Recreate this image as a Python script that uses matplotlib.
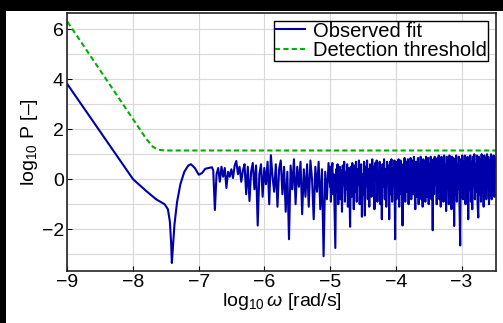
import numpy as np
import matplotlib
matplotlib.use("Agg")
import matplotlib.pyplot as plt
from matplotlib.patches import Rectangle
from matplotlib.ticker import MultipleLocator

plt.rcParams["font.family"] = ["Liberation Sans", "DejaVu Sans"]
plt.rcParams["mathtext.fontset"] = "custom"
plt.rcParams["mathtext.rm"] = "Liberation Sans"
plt.rcParams["mathtext.it"] = "Liberation Sans:italic"

# Detection threshold (log10 omega, log10 P)
thr_x = [-9.0, -8.5, -8.0, -7.8, -7.7, -7.65, -7.6, -7.55, -7.5, -7.4, -2.48]
thr_y = [6.3, 4.35, 2.4, 1.62, 1.3, 1.22, 1.18, 1.16, 1.15, 1.15, 1.15]

# Observed fit, smooth low-frequency part
fit_x = [-9.0, -8.8, -8.6, -8.4, -8.2, -8.0, -7.8, -7.65, -7.52, -7.47, -7.44,
         -7.42, -7.41, -7.39, -7.37, -7.33, -7.28, -7.22, -7.16, -7.12, -7.06,
         -7.0, -6.95, -6.9, -6.85, -6.8]
fit_y = [3.8, 3.04, 2.28, 1.52, 0.76, 0.0, -0.47, -0.8, -1.0, -1.2, -1.7,
         -2.6, -3.35, -2.6, -1.8, -0.9, -0.2, 0.3, 0.55, 0.6, 0.45,
         0.18, 0.25, 0.42, 0.45, 0.48]

# Observed fit, noisy part (three frequency bands)
band1 = [0.35, -1.23, 0.2, 0.45, -0.1, 0.5, 0.1, 0.45, -0.35, 0.3,
         0.1, 0.4, 0.05, 0.55, 0.73, 0.2, 0.5, -0.1, 0.35, 0.6,
         -0.6, 0.5, -0.87, 0.3, 0.65, -0.4, 0.55, -1.85, 0.2, 0.6,
         -0.7, 0.45, -0.2, 0.7, -1.0, 0.96, 0.1, -0.5, 0.6, -1.1,
         0.4, 0.75, -0.6, 0.5, -1.3, 0.3, -2.4, 0.55, -0.4, 0.8,
         -1.0, 0.5, -0.3, 0.7, -1.4, 0.4, -0.7, 0.6, -1.1, 0.75,
         0.0, -1.6, 0.5, -0.5, 0.7, -1.2, 0.4, -3.08, 0.3, -0.8,
         0.65, -0.3]
band2 = [0.5, -0.9, 0.3, 0.65, -0.6, 0.2, -1.2, -2.75, 0.4, -0.5,
         0.6, -1.0, 0.1, 0.5, -0.8, 0.35, -1.3, 0.55, -0.2, 0.7,
         -0.9, 0.3, -0.4, 0.6, -1.1, 0.45, -0.3, -1.9, 0.5, -0.7,
         0.65, 0.0, -1.2, 0.55, -0.5, 0.7, -0.9, 0.4, -0.2, 0.75,
         -1.0, 0.3, 0.6, -1.5, 0.2, -0.6, 0.7, -1.45, 0.5, -0.3,
         0.75, -0.8, 0.4, -1.1, 0.6, 0.1, -0.7, 0.8, -0.4, 0.5,
         -1.2, 0.65, -0.1, 0.75, -0.9, 0.35, -0.5, 0.7, -1.0, 0.45,
         -1.6, 0.6, -0.3, 0.8, -0.8, 0.4, -1.1, 0.7, 0.0, 0.55,
         -1.6, 0.7, -0.6, 0.8, -0.9, 0.45, -0.2, 0.75, -2.4, 0.6]
band3 = [0.7, -0.8, 0.5, -0.3, 0.8, -1.1, 0.4, 0.75, -0.6, 0.6,
         -1.85, 0.5, -0.4, 0.85, -0.9, 0.3, 0.7, -0.5, 0.8, -1.0,
         0.55, -0.2, 0.85, -0.8, 0.4, 0.75, -0.6, 0.9, -0.3, -1.2,
         0.7, -0.7, 0.5, 0.85, -1.0, 0.6, -0.4, 0.9, -0.8, 0.45,
         -1.1, 0.8, -0.3, 0.7, -0.9, 0.9, 0.2, -0.7, 0.85, -1.0,
         0.6, -0.5, 0.9, -0.8, 0.4, -2.04, 0.8, -0.6, 0.9, -0.2,
         0.7, -1.0, 0.85, -0.5, 0.95, -0.8, 0.5, -1.1, 0.9, -0.3,
         0.75, -0.9, 0.95, -0.6, 0.6, -1.27, 0.9, -0.4, 0.8, -1.0,
         0.95, -0.7, 0.5, -1.2, 0.9, -0.3, 0.85, -1.87, 0.7, -0.6,
         0.95, -0.9, 0.6, -0.4, 0.9, -1.1, -2.65, 0.8, -0.5, 0.95,
         -0.8, 0.7, -0.2, 0.95, -1.0, 0.6, -0.6, 0.9, -1.6, 0.85,
         -0.4, 0.95, -0.9, 0.7, -1.2, 0.9, -0.3, 1.0, -0.8, 0.6,
         -0.5, 0.95, -1.0, -1.53, 0.9, -0.6, 0.8, -0.9, 1.0, -0.4,
         0.7, -1.1, 0.95, -0.5, 0.85, -0.8, 1.0, -0.3, 0.9, -1.0,
         0.75, -0.6, 1.0, -0.8, 0.9, -0.5, 0.95, -0.7, 0.85, 0.5]

x1 = np.linspace(-6.78, -5.0, len(band1))
x2 = np.linspace(-5.0, -4.0, len(band2))
x3 = np.linspace(-4.0, -2.48, len(band3))

obs_x = np.concatenate([fit_x, x1, x2, x3])
obs_y = np.concatenate([fit_y, band1, band2, band3])

fig = plt.figure(figsize=(5.03, 3.23), dpi=100, facecolor="white")
ax = fig.add_axes([0.134, 0.161, 0.8515, 0.798])

ax.plot(obs_x, obs_y, color="#0000aa", lw=1.5, label="Observed fit")
ax.plot(thr_x, thr_y, color="#00b000", lw=1.5, linestyle=(0, (2.5, 1.5)),
        label="Detection threshold")

ax.set_xlim(-9, -2.48)
ax.set_ylim(-3.67, 6.64)
ax.xaxis.set_major_locator(MultipleLocator(1))
ax.yaxis.set_major_locator(MultipleLocator(2))
ax.yaxis.set_minor_locator(MultipleLocator(1))
ax.grid(True, which="both", color="#d8d8d8", lw=0.8)
ax.set_axisbelow(True)
ax.tick_params(which="both", direction="in", labelsize=14, length=3.5,
               width=0.8, pad=2.5)
ax.tick_params(which="minor", length=0)
for s in ax.spines.values():
    s.set_linewidth(1.2)
    s.set_color("#222222")

ax.set_xlabel(r"log$_{10}\,\omega$ [rad/s]", fontsize=14, labelpad=0)
ax.set_ylabel(r"log$_{10}$ P [–]", fontsize=14, labelpad=1)

leg = ax.legend(loc="upper right", bbox_to_anchor=(488 / 503, 1 - 20.5 / 323),
                bbox_transform=fig.transFigure, fontsize=14.5, fancybox=False,
                framealpha=1, edgecolor="black", borderpad=0.05,
                labelspacing=0.02, handlelength=1.5, handletextpad=0.4,
                borderaxespad=0)
leg.get_frame().set_linewidth(1.0)

# black strips along the left and top edge
fig.patches.append(Rectangle((0, 0), 6 / 503, 1, transform=fig.transFigure,
                             facecolor="black", edgecolor="none", zorder=10))
fig.patches.append(Rectangle((0, 1 - 11 / 323), 1, 11 / 323,
                             transform=fig.transFigure, facecolor="black",
                             edgecolor="none", zorder=10))

fig.savefig("out.png", dpi=100, facecolor=fig.get_facecolor())
